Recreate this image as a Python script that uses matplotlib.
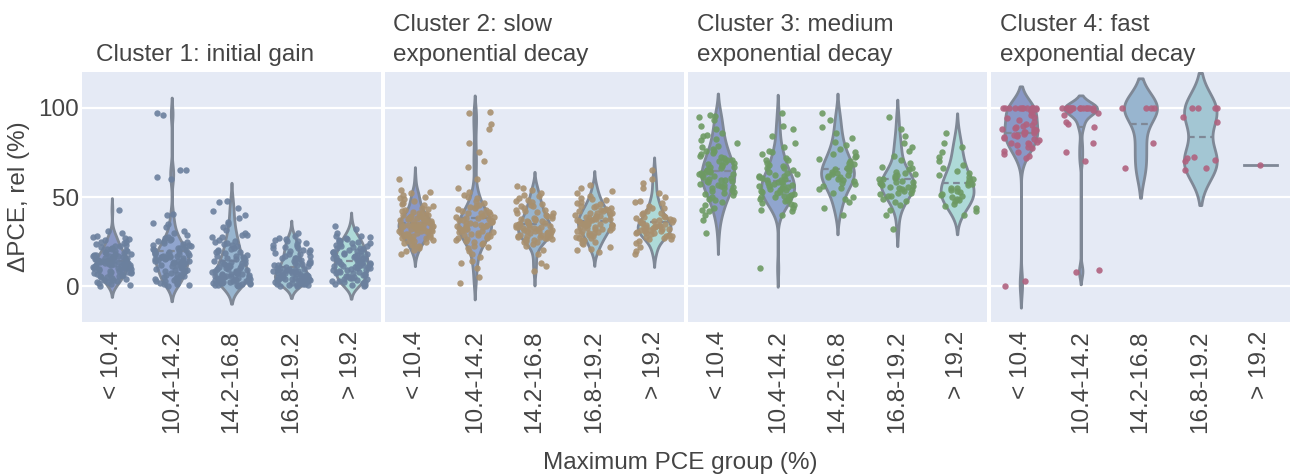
import numpy as np
import pandas as pd
import matplotlib
matplotlib.use("Agg")
import matplotlib.pyplot as plt
from matplotlib.collections import PolyCollection
import seaborn as sns

# Max-PCE groups shown on every panel
groups = ["< 10.4", "10.4-14.2", "14.2-16.8", "16.8-19.2", "> 19.2"]

titles = ["Cluster 1: initial gain",
          "Cluster 2: slow\nexponential decay",
          "Cluster 3: medium\nexponential decay",
          "Cluster 4: fast\nexponential decay"]

# dPCE rel (%) values, one list per group
c1_lt104 = [0.4, 1.2, 1.8, 2.6, 3.1, 3.3, 4.0, 4.7, 5.2, 5.5, 5.9, 6.4, 6.8, 7.1, 7.3, 7.9, 8.2, 8.6,
            8.8, 9.1, 9.4, 9.7, 10.0, 10.3, 10.5, 10.9, 11.2, 11.4, 11.8, 12.0, 12.1, 12.5, 12.7, 13.0,
            13.2, 13.5, 13.8, 14.0, 14.3, 14.6, 14.9, 15.1, 15.4, 15.6, 15.9, 16.2, 16.5, 16.7, 17.0,
            17.4, 17.8, 18.1, 18.5, 18.9, 19.3, 19.8, 20.2, 20.7, 21.1, 21.6, 22.3, 22.9, 23.5, 24.2,
            25.0, 25.8, 26.7, 27.5, 28.4, 29.6, 31.2, 43.0, 2.2, 6.1, 8.0, 11.0, 13.9, 16.0, 1.0, 3.8,
            9.9, 12.9, 14.8, 18.3, 21.9, 24.8, 27.1, 5.0, 10.7, 15.2, 12.3, 14.1, 16.9, 19.5, 7.6, 22.7]
c1_104_142 = [0.3, 0.9, 1.5, 2.1, 2.8, 3.4, 3.9, 4.5, 5.1, 5.6, 6.2, 6.9, 7.4, 8.0, 8.5, 9.1, 9.6, 10.2,
              10.8, 11.3, 11.9, 12.4, 12.8, 13.3, 13.7, 14.1, 14.6, 15.0, 15.3, 15.7, 16.1, 16.4, 16.8,
              17.2, 17.5, 17.9, 18.3, 18.8, 19.2, 19.7, 20.1, 20.6, 21.2, 21.8, 22.4, 23.1, 23.8, 24.6,
              25.5, 26.4, 27.3, 28.5, 29.6, 30.8, 33.0, 35.0, 35.4, 40.0, 40.5, 60.0, 61.0, 65.0, 65.4,
              96.0, 97.0, 1.1, 3.0, 5.9, 8.8, 11.6, 13.9, 15.5, 17.0, 18.6, 20.9, 22.9, 25.1, 27.8, 2.4,
              7.1, 10.5, 14.4, 16.6, 19.0, 21.5, 24.0, 4.2, 12.0, 16.3, 18.0, 26.0, 9.4, 13.0]
c1_142_168 = [0.2, 0.5, 0.9, 1.2, 1.6, 1.9, 2.3, 2.6, 3.0, 3.3, 3.6, 4.0, 4.3, 4.7, 5.0, 5.3, 5.7, 6.0,
              6.4, 6.8, 7.1, 7.5, 7.9, 8.3, 8.8, 9.2, 9.7, 10.2, 10.8, 11.3, 11.9, 12.5, 13.1, 13.8,
              14.5, 15.2, 16.0, 16.8, 17.6, 18.5, 19.4, 20.3, 21.3, 22.4, 23.5, 24.7, 26.0, 27.4, 28.8,
              30.0, 31.5, 33.0, 35.0, 36.0, 38.0, 40.0, 42.0, 44.0, 47.0, 48.0, 0.7, 1.4, 2.1, 2.8, 3.5,
              4.2, 4.9, 5.5, 6.2, 7.0, 7.7, 8.6, 9.5, 10.5, 11.6, 12.8, 14.0, 15.6, 17.2, 19.0, 21.0,
              23.0, 25.3, 27.8, 1.0, 3.1, 5.8, 8.1, 11.1, 13.4, 16.4, 20.0, 24.0, 29.0]
c1_168_192 = [0.2, 0.6, 1.0, 1.3, 1.7, 2.0, 2.4, 2.7, 3.1, 3.4, 3.8, 4.1, 4.5, 4.8, 5.2, 5.5, 5.9, 6.2,
              6.6, 7.0, 7.4, 7.8, 8.3, 8.8, 9.3, 9.9, 10.5, 11.1, 11.8, 12.5, 13.3, 14.1, 15.0, 15.9,
              16.9, 17.9, 19.0, 20.1, 21.3, 22.5, 23.8, 25.1, 26.5, 28.0, 30.0, 0.8, 1.5, 2.2, 2.9, 3.6,
              4.3, 5.0, 5.7, 6.4, 7.2, 8.0, 8.9, 9.8, 10.8, 11.9, 13.0, 14.3, 15.6, 17.0, 18.5, 20.2,
              22.0, 24.0, 26.0, 1.1, 3.3, 5.3, 7.5, 10.0, 12.8, 15.4, 18.2, 21.6, 25.6, 2.5, 4.6, 6.9,
              9.1, 12.0, 16.0, 19.6, 23.0, 27.0, 0.4, 3.9, 6.0, 8.5]
c1_gt192 = [0.3, 0.8, 1.3, 1.8, 2.3, 2.8, 3.4, 3.9, 4.5, 5.0, 5.6, 6.1, 6.7, 7.2, 7.8, 8.3, 8.9, 9.4,
            10.0, 10.5, 11.1, 11.6, 12.2, 12.7, 13.3, 13.8, 14.4, 14.9, 15.5, 16.0, 16.6, 17.1, 17.7,
            18.2, 18.8, 19.4, 20.0, 20.6, 21.2, 21.9, 22.6, 23.3, 24.0, 24.8, 25.6, 26.5, 27.4, 28.3,
            30.0, 32.0, 34.0, 1.0, 2.6, 4.2, 5.9, 7.5, 9.1, 10.8, 12.4, 14.0, 15.7, 17.3, 19.0, 20.7,
            22.4, 24.3, 26.2, 28.0, 1.5, 4.8, 8.0, 11.3, 14.6, 18.0, 21.5, 25.1, 3.0, 9.8, 13.1, 16.3,
            19.7, 23.6, 27.0, 6.5, 12.0, 17.9, 11.0, 15.0]

c2_lt104 = [18, 20.5, 21.2, 22.6, 23.4, 24.1, 24.8, 25.3, 25.9, 26.4, 26.8, 27.3, 27.9, 28.2, 28.6,
            29.0, 29.4, 29.8, 30.1, 30.5, 30.9, 31.2, 31.6, 31.9, 32.3, 32.6, 32.9, 33.2, 33.5, 33.8,
            34.0, 34.3, 34.6, 34.9, 35.1, 35.4, 35.7, 36.0, 36.3, 36.6, 36.9, 37.2, 37.6, 38.0, 38.4,
            38.8, 39.3, 39.8, 40.3, 40.9, 41.5, 42.2, 43.0, 43.8, 44.7, 45.6, 46.6, 47.7, 48.8, 50.0,
            51.3, 52.5, 54.0, 60.0, 19.5, 23.0, 25.6, 27.6, 29.2, 30.7, 32.0, 33.3, 34.5, 35.6, 36.8,
            38.2, 39.6, 41.2, 43.4, 46.0, 49.3, 53.0, 28.0, 31.0, 33.7, 35.0, 37.0, 40.0]
c2_104_142 = [2, 5, 10, 13, 14, 18, 20, 21.5, 22.8, 23.9, 24.8, 25.6, 26.3, 27.0, 27.6, 28.2, 28.8,
              29.4, 30.0, 30.5, 31.0, 31.5, 32.0, 32.5, 33.0, 33.5, 34.0, 34.5, 35.0, 35.5, 36.0, 36.5,
              37.0, 37.6, 38.2, 38.8, 39.4, 40.1, 40.8, 41.6, 42.4, 43.3, 44.3, 45.4, 46.6, 48.0, 49.5,
              51.0, 53.0, 55.0, 60.0, 67.0, 70.0, 75.0, 80.0, 88.0, 91.0, 97.0, 97.5, 24.0, 26.0, 28.5,
              30.3, 32.2, 33.8, 35.3, 36.8, 38.5, 40.5, 42.8, 45.0, 29.0, 31.3, 34.2, 37.3, 41.0, 27.3,
              33.1, 35.8, 39.0, 44.0, 16.5, 22.0, 50.0]
c2_142_168 = [8.5, 11.5, 13, 18, 20.5, 22.5, 23.8, 24.7, 25.4, 26.0, 26.6, 27.1, 27.6, 28.1, 28.6, 29.1,
              29.6, 30.1, 30.6, 31.1, 31.6, 32.1, 32.6, 33.1, 33.6, 34.1, 34.7, 35.3, 35.9, 36.5, 37.1,
              37.8, 38.5, 39.2, 40.0, 40.8, 41.7, 42.6, 43.6, 44.7, 45.8, 47.0, 48.3, 49.6, 51.0, 52.5,
              54.0, 55.0, 56.0, 25.0, 26.3, 27.4, 28.4, 29.4, 30.4, 31.4, 32.4, 33.4, 34.4, 35.6, 36.8,
              38.2, 39.6, 41.2, 43.0, 45.2, 47.6, 50.5, 27.0, 29.0, 31.0, 33.0, 35.0, 28.0, 30.8, 32.8,
              34.9, 37.5, 42.0, 46.0]
c2_168_192 = [19.0, 20.5, 22.0, 23.5, 24.7, 25.8, 26.8, 27.7, 28.5, 29.3, 30.0, 30.7, 31.3, 31.9, 32.5,
              33.1, 33.6, 34.1, 34.6, 35.1, 35.6, 36.1, 36.6, 37.1, 37.6, 38.1, 38.7, 39.3, 39.9, 40.5,
              41.2, 41.9, 42.6, 43.4, 44.2, 45.1, 46.0, 47.0, 48.1, 49.3, 50.6, 52.0, 53.5, 55.0, 57.0,
              24.0, 26.2, 28.0, 29.7, 31.1, 32.3, 33.4, 34.4, 35.4, 36.4, 37.4, 38.5, 39.6, 40.9, 42.3,
              44.0, 46.5, 49.0, 27.3, 30.4, 32.8, 35.0, 37.9, 41.0, 45.0, 21.0, 34.9, 36.9, 43.0]
c2_gt192 = [18.0, 20.0, 22.0, 24.0, 25.2, 26.3, 27.2, 28.0, 28.7, 29.3, 29.9, 30.4, 30.9, 31.4, 31.9,
            32.4, 32.9, 33.4, 33.9, 34.4, 34.9, 35.4, 36.0, 36.6, 37.2, 37.9, 38.6, 39.4, 40.3, 41.3,
            42.4, 43.6, 45.0, 46.5, 48.0, 50.0, 52.0, 55.0, 58.0, 60.0, 65.0, 26.5, 28.4, 30.1, 31.6,
            33.1, 34.6, 36.3, 38.2, 40.8, 44.0, 29.6, 32.2, 35.2, 39.0, 47.0, 27.6, 31.2, 34.0, 37.0]

c3_lt104 = [30, 37, 40, 42, 44, 45.5, 47, 48.5, 50, 51, 52, 53, 54, 55, 55.8, 56.6, 57.4, 58.2, 59, 59.8,
            60.6, 61.4, 62.2, 63, 63.8, 64.6, 65.4, 66.2, 67, 68, 69, 70, 71, 72, 73.2, 74.4, 75.6, 77,
            78.5, 80, 82, 84, 86, 88, 90, 93, 95, 95.5, 96, 49, 53.5, 57, 60, 62.7, 65, 67.5, 70.5, 74,
            78, 56, 58.8, 61.8, 64, 66.8, 69.5, 72.5, 76, 82.5, 43, 51.6, 55.3, 59.5, 63.4, 68.5, 85]
c3_104_142 = [10, 40, 42, 44, 45.5, 46.5, 47.5, 48.3, 49, 49.8, 50.5, 51.2, 52, 52.7, 53.4, 54.1, 54.8,
              55.5, 56.2, 57, 57.8, 58.6, 59.4, 60.2, 61, 62, 63, 64, 65, 66.3, 67.6, 69, 70.5, 72, 74,
              76, 78, 80, 84, 88, 90, 97, 50, 53, 55.9, 58.2, 60.6, 63.5, 46, 48.8, 51.6, 54.4, 57.3,
              59.8, 62.5, 66, 71, 50.3, 53.9, 56.6, 61.5, 68, 75, 43]
c3_142_168 = [40, 44, 47, 50, 52.5, 54.5, 56, 57.5, 58.8, 60, 61.2, 62.4, 63.6, 64.8, 66, 67.3, 68.6, 70,
              71.5, 73, 75, 77, 79, 81, 83, 86, 89, 93, 97, 55, 59.4, 62, 63, 65.5, 69, 72.5, 58, 61,
              66.5, 74, 49, 64.2]
c3_168_192 = [32, 40, 43, 45.5, 47.5, 49, 50.3, 51.5, 52.5, 53.4, 54.2, 55, 55.8, 56.6, 57.4, 58.2, 59,
              59.9, 60.8, 61.8, 62.9, 64, 65.5, 67, 69, 71, 73, 76, 80, 84, 95, 52, 54.6, 56.2, 58.6,
              60.3, 62.3, 63.5, 50.8, 55.4, 57.8, 47, 66, 78, 88]
c3_gt192 = [40, 42, 44, 46, 47.5, 49, 50.3, 51.5, 52.7, 54, 55.3, 56.6, 58, 59.5, 61, 62.6, 64.3, 66, 68,
            70, 72.5, 75, 78, 80, 86, 48.2, 51, 53.4, 57.3, 60, 63.5, 45, 55, 50]

c4_lt104 = [0, 3, 72, 73, 74, 75, 76, 77.5, 78, 79, 80, 80.5, 81, 82, 82.5, 83, 84, 84.5, 85, 85.5, 86,
            86.5, 87, 87.5, 88, 88.5, 89, 90, 90.5, 91, 92, 93, 94, 95, 96, 97, 98, 99, 99.5, 100, 100,
            100, 100, 100, 100, 100, 100, 100, 100, 100, 100, 83.5, 86.2, 79.5, 88.2]
c4_104_142 = [8, 9, 70, 75, 80, 89, 91, 92, 96, 97, 99, 99, 99, 100, 100, 100, 100, 100, 100, 100, 100,
              100, 100, 100, 100, 100, 100]
c4_142_168 = [66, 80, 100, 100, 100, 100]
c4_168_192 = [65, 66, 70, 71, 72, 72.5, 92, 95, 100, 100, 100, 100]
c4_gt192 = [68]

cluster_data = [
    [c1_lt104, c1_104_142, c1_142_168, c1_168_192, c1_gt192],
    [c2_lt104, c2_104_142, c2_142_168, c2_168_192, c2_gt192],
    [c3_lt104, c3_104_142, c3_142_168, c3_168_192, c3_gt192],
    [c4_lt104, c4_104_142, c4_142_168, c4_168_192, c4_gt192],
]

violin_colors = ["#8A98C6", "#90A5CE", "#98B5CF", "#A3C6D3", "#AEDAD8"]
point_colors = ["#6B809E", "#A8906F", "#6D9A63", "#B0627F"]

BG = "#E5EAF5"
TXT = "#444444"
EDGE = "#7F8896"
FS = 17.5


def silverman_bw(kde):
    # robust Silverman rule (min of std and IQR/1.349), as a factor of the data std
    d = np.asarray(kde.dataset).ravel()
    sd = d.std(ddof=1)
    q1, q3 = np.percentile(d, [25, 75])
    s = min(sd, (q3 - q1) / 1.349) if q3 > q1 else sd
    return 1.059 * s * d.size ** -0.2 / sd


def mean_lines(ax, vals):
    # dashed mean line across each violin body
    for coll in ax.collections:
        if not isinstance(coll, PolyCollection):
            continue
        v = coll.get_paths()[0].vertices
        k = int(round((v[:, 0].min() + v[:, 0].max()) / 2))
        m = np.mean(vals[k])
        xs = []
        for (x1, y1), (x2, y2) in zip(v[:-1], v[1:]):
            if (y1 - m) * (y2 - m) <= 0 and y1 != y2:
                xs.append(x1 + (m - y1) * (x2 - x1) / (y2 - y1))
        if xs:
            ax.plot([min(xs), max(xs)], [m, m], color=EDGE, lw=1.6, ls=(0, (3, 2)), zorder=2.5)


plt.rcParams["font.family"] = ["Liberation Sans", "DejaVu Sans"]

fig = plt.figure(figsize=(12.9, 4.76), dpi=100)
W, H = 1290, 476
lefts = [82, 385, 688, 991]
title_dx = [14, 8, 9, 9]

for i, (left, title, vals) in enumerate(zip(lefts, titles, cluster_data)):
    ax = fig.add_axes([left / W, 1 - 322 / H, 299 / W, 250 / H])
    ax.set_facecolor(BG)

    df = pd.DataFrame({
        "group": np.concatenate([[g] * len(v) for g, v in zip(groups, vals)]),
        "dpce": np.concatenate([np.asarray(v, float) for v in vals]),
    })

    sns.violinplot(data=df, x="group", y="dpce", hue="group", order=groups, hue_order=groups,
                   palette=violin_colors, legend=False, inner=None, cut=2, width=0.55,
                   density_norm="width", bw_method=silverman_bw, saturation=1, linewidth=2,
                   linecolor=EDGE, ax=ax)
    mean_lines(ax, vals)
    sns.stripplot(data=df, x="group", y="dpce", order=groups, color=point_colors[i],
                  jitter=0.32, size=4.6, alpha=0.9, linewidth=0, ax=ax, zorder=3)

    ax.set_ylim(-20, 120)
    ax.set_yticks([0, 50, 100])
    ax.grid(axis="y", color="white", linewidth=1.6)
    ax.grid(axis="x", visible=False)
    ax.set_axisbelow(True)
    for s in ax.spines.values():
        s.set_visible(False)
    ax.tick_params(length=0, labelsize=FS, labelcolor=TXT)
    ax.tick_params(axis="x", rotation=90, pad=6)
    ax.tick_params(axis="y", pad=2)
    ax.set_xlabel("")
    ax.set_ylabel("")
    if i > 0:
        ax.set_yticklabels([])
    else:
        ax.set_ylabel("\u0394PCE, rel (%)", fontsize=FS, color=TXT, labelpad=6)

    ax.text(title_dx[i] / 299, 1.025, title, transform=ax.transAxes, ha="left", va="bottom",
            fontsize=FS, color=TXT, linespacing=1.45)

fig.text(680 / W, 1 - 463 / H, "Maximum PCE group (%)", ha="center", va="center",
         fontsize=FS, color=TXT)

fig.savefig("out.png", dpi=100, facecolor="white")
